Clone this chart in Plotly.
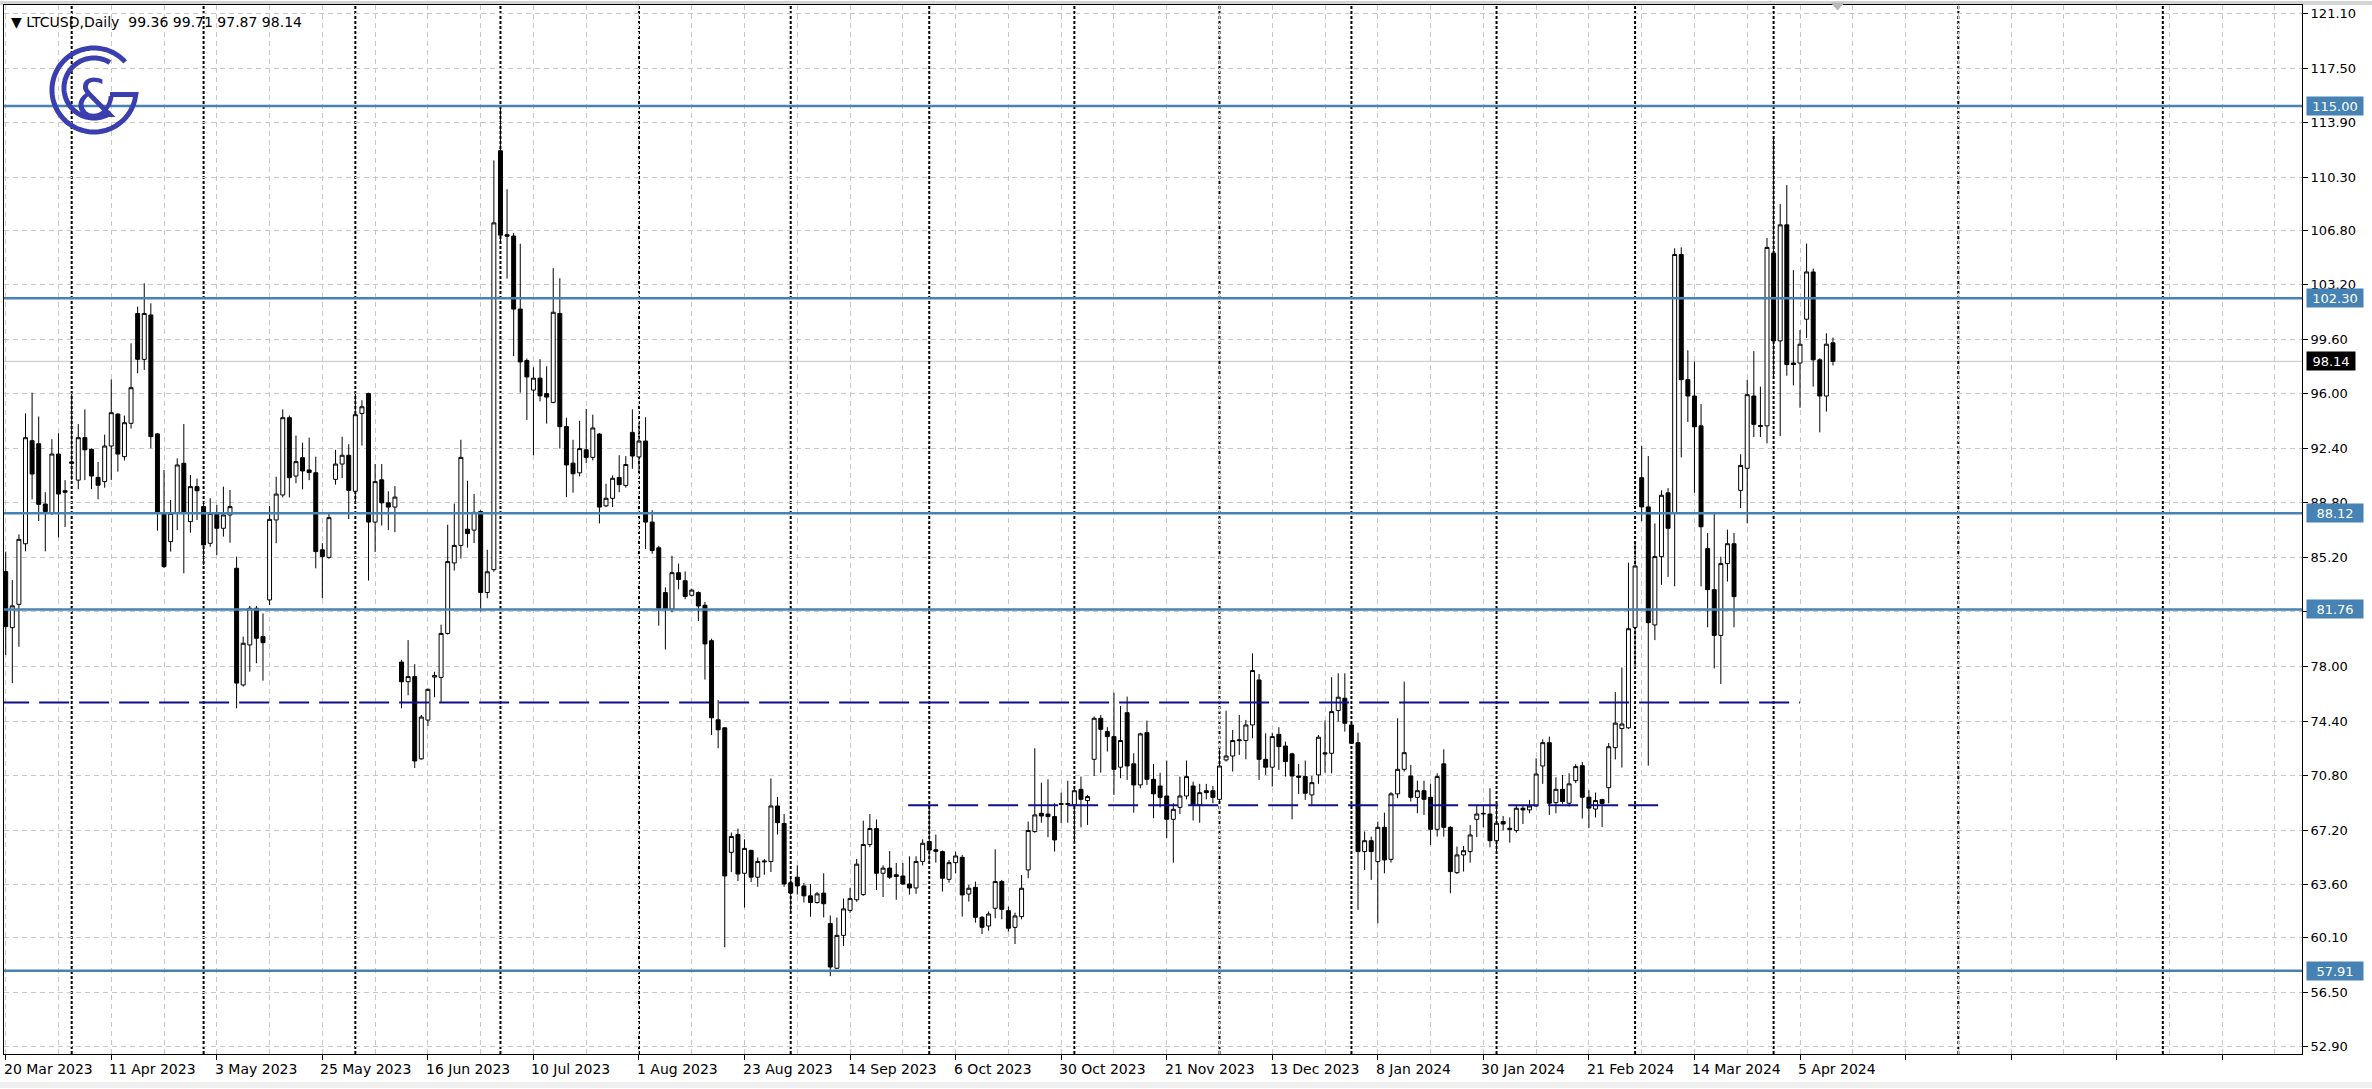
import numpy as np
import pandas as pd
import plotly.graph_objects as go

# ---------------- data ----------------
open_ = [84.26, 80.56, 82.10, 86.10, 92.90, 92.70, 88.72, 88.15, 92.02, 89.60,
         91.40, 90.30, 93.10, 92.33, 90.48, 90.20, 92.55, 94.66, 91.85, 94.05,
         101.30, 98.27, 101.20, 93.35, 88.15, 86.24, 88.10, 91.41, 87.56, 89.87,
         88.55, 86.13, 88.10, 87.12, 88.00, 84.48, 76.78, 79.42, 81.84, 79.97,
         82.39, 87.67, 89.32, 94.42, 90.57, 91.78, 90.97, 90.79, 85.70, 85.20,
         90.35, 91.36, 91.94, 89.56, 94.70, 96.01, 87.53, 90.32, 88.80, 88.52,
         78.29, 76.99, 77.33, 71.90, 74.46, 77.30, 77.28, 80.18, 84.83, 85.99,
         87.06, 87.00, 88.23, 82.88, 84.39, 112.04, 106.50, 106.41, 101.59, 98.19,
         96.24, 97.03, 96.01, 95.43, 101.30, 93.83, 91.42, 90.78, 92.30, 91.80,
         93.34, 88.60, 89.10, 90.47, 89.95, 93.45, 91.83, 92.88, 87.53, 85.83,
         82.88, 81.79, 84.19, 83.66, 82.70, 82.88, 82.04, 79.70, 74.48, 73.95,
         65.73, 66.91, 64.35, 65.86, 64.09, 65.10, 65.13, 68.79, 67.64, 63.72,
         64.09, 63.51, 62.86, 62.42, 63.04, 61.03, 58.08, 60.25, 61.90, 62.60,
         62.94, 66.25, 67.30, 64.35, 64.69, 64.25, 64.17, 63.64, 63.38, 65.13,
         66.44, 65.90, 65.78, 63.95, 65.05, 65.40, 62.98, 63.42, 61.44, 60.87,
         62.04, 63.80, 61.88, 60.78, 61.49, 64.57, 67.10, 68.31, 68.26, 68.09,
         68.95, 68.95, 68.86, 69.89, 69.15, 71.87, 74.58, 73.70, 73.37, 71.35,
         74.95, 71.57, 70.18, 73.63, 70.55, 70.11, 69.45, 67.91, 68.70, 69.45,
         70.11, 68.86, 69.80, 69.80, 69.23, 71.83, 72.09, 73.10, 73.11, 74.14,
         77.11, 71.87, 71.35, 73.52, 72.75, 72.23, 70.77, 70.73, 69.52, 70.84,
         72.30, 72.27, 75.09, 75.90, 74.14, 72.97, 65.78, 66.50, 65.12, 67.38,
         65.27, 69.59, 71.21, 70.77, 69.36, 69.80, 69.36, 67.25, 71.57, 67.38,
         64.39, 65.56, 65.78, 67.91, 68.26, 68.26, 66.50, 67.76, 67.32, 67.17,
         68.64, 68.53, 68.79, 71.43, 72.97, 69.01, 69.89, 68.97, 70.46, 71.45,
         69.37, 68.59, 69.21, 70.00, 72.64, 73.90, 73.95, 80.58, 90.46, 88.53,
         80.74, 85.25, 89.46, 88.15, 105.19, 96.93, 95.85, 93.88, 85.78, 83.07,
         80.05, 84.79, 86.10, 89.62, 91.08, 95.85, 93.90, 93.88, 105.28, 99.49,
         107.15, 98.03, 98.03, 100.92, 104.04, 98.24, 95.85, 99.36]
high_ = [85.58, 83.70, 86.72, 94.70, 96.07, 94.50, 89.50, 93.00, 93.39, 90.30,
         96.00, 94.00, 94.97, 92.40, 91.50, 93.30, 96.95, 94.70, 94.56, 99.33,
         101.75, 103.29, 101.97, 93.40, 90.97, 88.99, 91.74, 94.00, 90.64, 90.40,
         88.88, 89.10, 88.66, 89.87, 89.65, 85.25, 79.97, 82.00, 82.00, 81.50,
         88.59, 90.53, 94.97, 94.56, 93.24, 92.77, 93.10, 91.85, 86.14, 88.20,
         92.30, 93.16, 92.67, 96.00, 95.57, 96.07, 91.36, 91.36, 89.56, 89.90,
         78.44, 79.74, 78.15, 74.80, 76.55, 77.65, 80.76, 87.35, 88.75, 92.96,
         90.26, 89.39, 88.31, 85.70, 111.40, 114.89, 109.50, 106.61, 105.90, 98.33,
         97.75, 98.28, 97.81, 104.29, 103.62, 94.41, 92.96, 94.21, 95.00, 94.62,
         93.40, 90.06, 90.61, 91.94, 91.88, 94.97, 94.10, 94.45, 88.31, 85.96,
         83.22, 85.31, 84.79, 84.27, 83.14, 82.96, 82.25, 79.83, 75.78, 74.00,
         67.04, 67.30, 66.59, 65.90, 65.39, 65.29, 70.61, 69.39, 68.26, 64.17,
         64.87, 63.72, 63.64, 63.12, 64.35, 61.56, 61.43, 62.68, 63.38, 65.29,
         67.82, 68.26, 67.90, 64.87, 65.81, 65.03, 65.03, 65.47, 65.47, 66.59,
         68.87, 66.90, 65.85, 65.23, 65.78, 65.56, 63.58, 63.80, 61.53, 61.82,
         65.93, 63.91, 62.15, 61.75, 64.24, 67.76, 72.60, 70.33, 70.55, 68.97,
         69.67, 70.46, 69.96, 70.73, 69.52, 74.70, 74.80, 73.99, 76.27, 75.39,
         76.01, 72.27, 73.63, 74.43, 71.57, 70.99, 71.79, 68.97, 70.73, 71.79,
         70.40, 70.25, 70.25, 70.11, 72.53, 75.08, 73.81, 74.80, 74.47, 78.87,
         77.51, 73.59, 73.63, 73.99, 73.04, 72.30, 71.57, 71.79, 70.77, 73.48,
         74.43, 77.29, 77.55, 77.55, 74.36, 73.63, 67.10, 66.77, 67.76, 68.35,
         69.70, 74.58, 77.00, 71.50, 70.46, 70.46, 70.25, 70.95, 72.53, 67.45,
         66.11, 66.15, 67.54, 68.79, 68.79, 69.96, 68.79, 68.13, 68.04, 68.86,
         68.79, 69.19, 71.94, 73.19, 73.37, 70.68, 70.84, 70.95, 71.55, 71.70,
         69.83, 69.68, 69.27, 72.95, 76.31, 77.93, 84.85, 86.28, 92.57, 91.89,
         87.44, 89.62, 89.77, 105.60, 105.66, 98.87, 98.12, 95.32, 86.81, 88.06,
         85.25, 87.03, 86.81, 92.01, 96.93, 98.81, 96.47, 106.28, 112.98, 108.52,
         109.77, 104.16, 100.21, 105.91, 104.26, 98.34, 99.99, 99.71]
low_ = [78.76, 76.90, 79.30, 85.60, 89.03, 87.60, 85.60, 88.00, 86.52, 87.20,
        90.30, 89.70, 90.30, 89.70, 89.03, 89.80, 90.30, 90.86, 91.60, 93.70,
        97.35, 97.57, 92.40, 86.96, 84.50, 85.58, 87.00, 84.15, 86.83, 87.67,
        84.70, 85.90, 85.36, 86.57, 86.17, 75.24, 76.67, 77.66, 78.21, 77.06,
        82.06, 86.13, 89.16, 89.16, 90.09, 89.69, 90.30, 84.48, 82.50, 85.10,
        90.00, 90.43, 87.73, 88.75, 92.58, 83.67, 85.55, 87.30, 87.00, 86.86,
        75.24, 76.10, 71.30, 71.84, 74.08, 75.97, 75.62, 80.10, 84.33, 85.12,
        85.84, 86.14, 81.63, 82.50, 84.25, 106.03, 103.60, 98.48, 96.07, 94.27,
        91.94, 95.49, 94.03, 95.37, 92.38, 89.18, 89.47, 90.55, 91.42, 91.60,
        87.44, 88.52, 88.52, 89.50, 89.80, 91.05, 90.80, 85.75, 85.44, 80.69,
        79.12, 81.58, 83.09, 82.44, 82.62, 81.00, 77.14, 73.48, 72.60, 59.47,
        64.43, 63.83, 62.08, 63.77, 63.46, 64.25, 64.43, 66.91, 63.46, 61.82,
        62.94, 62.42, 61.48, 62.34, 61.43, 57.56, 58.03, 59.55, 61.74, 62.47,
        62.86, 66.07, 63.25, 62.78, 63.98, 62.60, 63.56, 62.94, 62.99, 64.87,
        65.08, 65.05, 63.14, 63.73, 64.35, 61.49, 62.48, 61.09, 60.34, 60.56,
        61.38, 61.31, 60.50, 59.68, 61.31, 64.02, 67.03, 67.69, 66.73, 65.78,
        67.65, 67.69, 66.44, 67.38, 67.54, 70.77, 70.99, 72.38, 69.52, 70.62,
        70.51, 68.35, 69.96, 70.18, 67.98, 68.70, 66.66, 65.05, 68.26, 69.23,
        67.83, 67.69, 69.23, 68.97, 69.01, 71.72, 71.06, 72.16, 71.87, 73.26,
        70.51, 70.84, 70.07, 71.17, 70.73, 67.91, 69.59, 69.19, 68.86, 70.25,
        70.99, 70.95, 74.36, 73.70, 72.89, 61.93, 64.57, 63.91, 61.05, 64.35,
        65.05, 69.30, 71.06, 69.08, 68.31, 68.20, 66.22, 66.77, 66.77, 63.03,
        64.30, 64.46, 65.05, 66.73, 67.38, 66.06, 65.67, 67.17, 66.37, 67.03,
        67.60, 68.31, 68.75, 70.25, 68.20, 68.31, 68.93, 68.75, 70.30, 67.96,
        67.34, 68.03, 67.40, 68.96, 71.86, 71.33, 73.88, 77.93, 87.59, 71.45,
        79.74, 83.39, 83.91, 83.29, 91.80, 94.13, 89.46, 83.29, 80.58, 77.87,
        76.84, 83.60, 80.58, 88.46, 87.44, 93.14, 93.14, 92.73, 97.09, 93.20,
        97.19, 96.56, 95.07, 99.68, 96.47, 93.45, 94.82, 97.87]
close_ = [80.63, 82.00, 86.39, 93.10, 90.70, 88.70, 88.22, 92.02, 89.38, 89.50,
          91.50, 93.10, 92.30, 90.57, 89.96, 92.55, 94.75, 92.02, 94.09, 96.40,
          98.27, 101.30, 93.17, 88.15, 84.59, 88.10, 91.30, 88.10, 89.87, 89.60,
          86.02, 88.10, 87.12, 88.00, 88.55, 76.90, 79.53, 81.84, 79.86, 79.57,
          87.71, 89.38, 94.42, 90.46, 91.52, 90.90, 90.80, 85.58, 85.26, 87.82,
          91.36, 91.94, 89.62, 94.62, 95.14, 87.53, 90.20, 88.80, 88.52, 89.18,
          76.99, 77.33, 71.76, 74.66, 76.49, 77.40, 80.18, 84.92, 85.99, 91.80,
          86.77, 88.17, 82.88, 84.25, 107.28, 106.47, 106.40, 101.59, 98.10, 97.11,
          97.03, 95.86, 95.78, 101.38, 93.83, 91.30, 90.72, 92.38, 91.80, 93.74,
          88.52, 89.10, 90.42, 90.00, 91.33, 91.89, 92.88, 87.53, 85.65, 81.84,
          81.79, 84.19, 83.74, 82.62, 83.04, 81.99, 79.49, 74.61, 73.82, 64.17,
          66.78, 64.30, 65.99, 64.09, 65.13, 65.15, 68.79, 67.69, 63.64, 63.04,
          63.51, 62.86, 62.42, 62.99, 62.34, 58.16, 60.25, 62.00, 62.68, 64.95,
          66.25, 67.30, 64.35, 64.69, 64.09, 64.14, 63.64, 63.38, 65.13, 66.33,
          65.88, 65.80, 64.02, 65.05, 65.49, 62.92, 63.36, 61.44, 60.78, 61.66,
          63.80, 61.97, 60.72, 61.53, 63.36, 67.17, 68.20, 68.13, 68.09, 66.55,
          68.90, 68.90, 69.80, 69.23, 69.41, 74.58, 73.85, 73.37, 71.21, 73.11,
          71.43, 70.18, 73.55, 70.55, 69.59, 69.36, 67.91, 68.57, 69.45, 70.73,
          68.86, 69.67, 69.67, 69.36, 71.43, 72.09, 73.11, 73.15, 74.14, 77.73,
          71.87, 71.35, 73.37, 72.71, 71.72, 70.77, 70.69, 69.63, 70.33, 73.33,
          72.23, 75.02, 75.97, 74.25, 72.93, 65.78, 66.50, 65.78, 67.38, 65.23,
          69.59, 71.21, 72.31, 69.36, 69.80, 69.23, 67.25, 70.73, 67.38, 64.46,
          65.56, 65.84, 66.88, 68.26, 68.30, 66.50, 67.65, 67.60, 67.25, 68.64,
          68.53, 68.79, 70.90, 72.97, 68.97, 69.89, 69.08, 70.25, 71.39, 69.37,
          68.65, 69.15, 68.96, 72.70, 74.26, 74.20, 80.49, 84.63, 88.53, 80.89,
          85.25, 89.30, 87.12, 105.19, 96.93, 95.85, 93.82, 87.22, 83.07, 80.05,
          84.79, 86.10, 82.61, 91.27, 95.94, 93.98, 93.85, 105.66, 99.49, 107.15,
          97.93, 97.93, 99.27, 104.04, 98.24, 95.85, 99.27, 98.14]

x_labels = ["20 Mar 2023", "11 Apr 2023", "3 May 2023", "25 May 2023", "16 Jun 2023",
            "10 Jul 2023", "1 Aug 2023", "23 Aug 2023", "14 Sep 2023", "6 Oct 2023",
            "30 Oct 2023", "21 Nov 2023", "13 Dec 2023", "8 Jan 2024", "30 Jan 2024",
            "21 Feb 2024", "14 Mar 2024", "5 Apr 2024"]
label_step = 16
grid_step = 8
y_ticks = [121.10, 117.50, 113.90, 110.30, 106.80, 103.20, 99.60, 96.00, 92.40, 88.80,
           85.20, 81.60, 78.00, 74.40, 70.80, 67.20, 63.60, 60.10, 56.50, 52.90]
hidden_ticks = [81.60]          # fully covered by the 81.76 level box in the reference
levels = [115.00, 102.30, 88.12, 81.76, 57.91]
dash_levels = [75.62, 68.84]
dash_starts = [-1.0, 136.8]
dash_ends = [272.0, 251.9]
last_price = 98.14
symbol = "LTCUSD,Daily"

# ---------------- layout constants ----------------
W, H = 2372, 1089
ML, MR, MT, MB = 4, 70, 5, 35
X_RANGE = [-0.26, 348.1]
Y_RANGE = [52.42, 121.66]
STEEL = "#4682B4"
NAVY = "#10108c"
LOGO = "#3a3eae"
FONT = "DejaVu Sans"

n = len(open_)
xs = list(range(n))

# trading-day calendar (weekdays, without 25 Dec / 1 Jan) for period separators
dates = pd.bdate_range("2023-03-20", "2024-04-19")
dates = dates[~dates.isin(pd.to_datetime(["2023-12-25", "2024-01-01"]))][:n]
sep_x = [i for i in range(1, len(dates)) if dates[i].month != dates[i - 1].month]
last_date = dates[-1]
for ms in pd.date_range("2024-04-01", "2024-08-01", freq="MS"):
    if ms > last_date:
        fx = (n - 1) + (ms - last_date).days
        if fx < X_RANGE[1]:
            sep_x.append(fx)

fig = go.Figure()
fig.add_trace(go.Candlestick(
    x=xs, open=open_, high=high_, low=low_, close=close_,
    increasing=dict(line=dict(color="black", width=1), fillcolor="white"),
    decreasing=dict(line=dict(color="black", width=1), fillcolor="black"),
    whiskerwidth=0, showlegend=False, hoverinfo="skip",
))

shapes = []
shapes.append(dict(type="line", xref="paper", x0=0, x1=1, yref="y", y0=last_price, y1=last_price,
                   line=dict(color="#c4c4c4", width=1), layer="below"))
for sx in sep_x:
    shapes.append(dict(type="line", xref="x", x0=sx, x1=sx, yref="paper", y0=0, y1=1,
                       line=dict(color="black", width=2, dash="3px,2px"), layer="below"))
for lv in levels:
    shapes.append(dict(type="line", xref="paper", x0=0, x1=1, yref="y", y0=lv, y1=lv,
                       line=dict(color=STEEL, width=2.5), layer="above"))
for lv, a, b in zip(dash_levels, dash_starts, dash_ends):
    shapes.append(dict(type="line", xref="x", x0=a, x1=b, yref="y", y0=lv, y1=lv,
                       line=dict(color=NAVY, width=2, dash="30px,10px"), layer="above"))


def arc_pts(cx, cy, r, a0, a1, k=90):
    t = np.radians(np.linspace(a0, a1, k))
    return [(cx + r * np.cos(v), cy + r * np.sin(v)) for v in t]


def to_path(pts):
    return "M " + " L ".join(f"{px:.1f},{py:.1f}" for px, py in pts)


# logo: pixel offsets from the plot's top-left corner (y up)
g_pts = arc_pts(90, -85, 42, 42, 354) + [(106, -89.4)]
c_pts = arc_pts(90, -83, 30, 58, 305)
for pts in (g_pts, c_pts):
    shapes.append(dict(type="path", xref="paper", yref="paper", xsizemode="pixel",
                       ysizemode="pixel", xanchor=0, yanchor=1, path=to_path(pts),
                       line=dict(color=LOGO, width=5), layer="above"))
shapes.append(dict(type="path", xref="x", yref="paper", xsizemode="pixel", ysizemode="pixel",
                   xanchor=277.7, yanchor=1, path="M -6,2 L 6,2 L 0,-5 Z",
                   fillcolor="#b8b8b8", line=dict(color="#b8b8b8", width=1)))
shapes.append(dict(type="rect", xref="paper", x0=-0.01, x1=1.05, yref="paper", y0=1.0,
                   y1=1.0 + 4 / 1049, fillcolor="#d4d4d4", line=dict(width=0), layer="below"))
shapes.append(dict(type="rect", xref="paper", x0=-0.01, x1=1.05, yref="paper", y0=-34 / 1049,
                   y1=-28 / 1049, fillcolor="#f0f0f0", line=dict(width=0), layer="below"))

annotations = []
header = (f"\u25BC {symbol}  {open_[-1]:.2f} {high_[-1]:.2f} "
          f"{low_[-1]:.2f} {close_[-1]:.2f}")
annotations.append(dict(xref="paper", yref="paper", x=0, y=1, xanchor="left", yanchor="top",
                        xshift=5, yshift=-7, text=header, showarrow=False,
                        font=dict(family=FONT, size=14, color="black")))
annotations.append(dict(xref="paper", yref="paper", x=0, y=1, xanchor="center", yanchor="middle",
                        xshift=92, yshift=-93, text="&", showarrow=False,
                        font=dict(family=FONT, size=54, color=LOGO)))
for k, lab in enumerate(x_labels):
    annotations.append(dict(xref="x", yref="paper", x=k * label_step, y=0, xanchor="left",
                            yanchor="top", xshift=-4, yshift=-5, text=lab, showarrow=False,
                            font=dict(family=FONT, size=14, color="black")))
for lv in levels:
    annotations.append(dict(xref="paper", yref="y", x=1, y=lv, xanchor="left", yanchor="middle",
                            xshift=4, text=f"{lv:.2f}", showarrow=False, bgcolor=STEEL,
                            width=54, height=16, borderpad=1,
                            font=dict(family=FONT, size=13, color="white")))
annotations.append(dict(xref="paper", yref="y", x=1, y=last_price, xanchor="left", yanchor="middle",
                        xshift=4, text=f"{last_price:.2f}", showarrow=False, bgcolor="black",
                        width=46, height=16, borderpad=1,
                        font=dict(family=FONT, size=13, color="white")))

major_x = list(range(0, int(X_RANGE[1]) + 1, label_step))
minor_x = list(range(grid_step, int(X_RANGE[1]) + 1, label_step))
y_text = ["" if v in hidden_ticks else f"{v:.2f}" for v in y_ticks]

fig.update_layout(
    width=W, height=H,
    margin=dict(l=ML, r=MR, t=MT, b=MB),
    paper_bgcolor="white", plot_bgcolor="white",
    boxgap=0.4, boxgroupgap=0,
    shapes=shapes, annotations=annotations,
    showlegend=False,
    xaxis=dict(range=X_RANGE, tickmode="array", tickvals=major_x, showticklabels=False,
               ticks="outside", ticklen=5, tickcolor="black",
               showgrid=True, gridcolor="#c8c8c8", griddash="5px,4px", gridwidth=1,
               minor=dict(tickmode="array", tickvals=minor_x, showgrid=True,
                          gridcolor="#c8c8c8", griddash="5px,4px", ticks=""),
               showline=True, linecolor="black", linewidth=1, mirror=True,
               zeroline=False, rangeslider=dict(visible=False), fixedrange=True),
    yaxis=dict(range=Y_RANGE, side="right", tickmode="array", tickvals=y_ticks,
               ticktext=y_text, ticks="outside", ticklen=5,
               tickcolor="black", tickfont=dict(family=FONT, size=13, color="black"),
               showgrid=True, gridcolor="#c8c8c8", griddash="5px,4px", gridwidth=1,
               showline=True, linecolor="black", linewidth=1, mirror=True,
               zeroline=False, fixedrange=True),
)

fig.write_html("out.html", config={"displayModeBar": False},
               post_script="document.body.style.margin='0';")
